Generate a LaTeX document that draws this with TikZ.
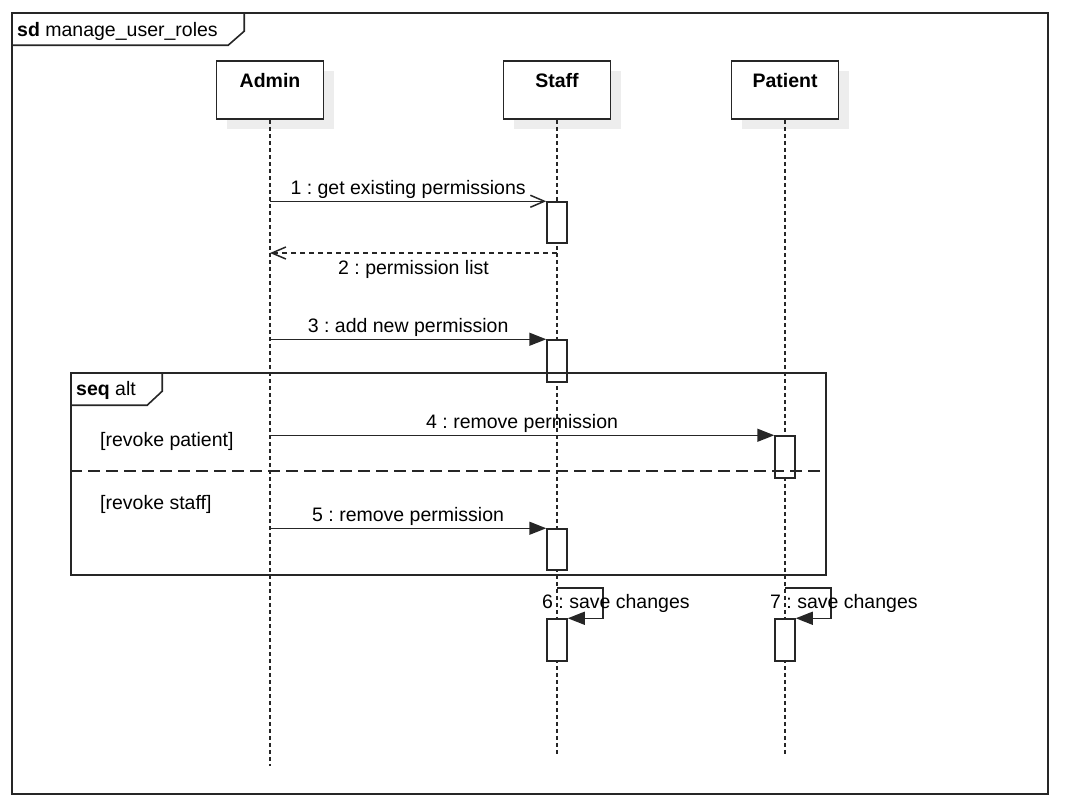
\documentclass[tikz,border=0pt]{standalone}
\usepackage{fontspec}
\setmainfont{Liberation Sans}
\usetikzlibrary{arrows.meta}
\frenchspacing

\newcommand\lbl{\fontsize{19.5}{23}\selectfont}

\tikzset{
  ink/.style={draw=black!85, line width=1.5pt},
  head/.style={ink, fill=white, minimum width=107pt, minimum height=58pt, inner sep=0pt},
  headshadow/.style={fill=black!7, minimum width=107pt, minimum height=58pt, inner sep=0pt},
  headlabel/.style={font=\lbl\bfseries, inner sep=2pt},
  act/.style={ink, fill=white, minimum width=20pt, minimum height=42pt, inner sep=0pt},
  life/.style={draw=black!85, line width=1.3pt, dash pattern=on 4pt off 3pt},
  call/.style={ink, -{Triangle[length=17pt, width=13pt]}},
  ask/.style={ink, -{Straight Barb[length=14pt, width=12pt]}},
  reply/.style={ask, dash pattern=on 5pt off 4pt},
  msglabel/.style={font=\lbl, inner sep=2pt},
  frame/.style={draw=black!85, line width=1.6pt, inner sep=0pt},
  sep/.style={draw=black!85, line width=1.5pt, dash pattern=on 12pt off 6pt},
}

\begin{document}
\begin{tikzpicture}[x=1pt, y=-1pt]

\useasboundingbox (0,0) rectangle (1068,807);

% Diagram frame
\node[frame, minimum width=1036pt, minimum height=781pt] (sd) at (530,403.5) {};
\draw[frame] (sd.north west) ++(0,33) -- ++(217,0) -- ++(16,-14) -- ++(0,-19);
\node[msglabel, anchor=west] (sdname) at (15,31) {\textbf{sd} manage\_user\_roles};

% Lifeline heads with shadow
\node[headshadow] at (280,100) {};
\node[headshadow] at (567,100) {};
\node[headshadow] at (795,100) {};
\node[head] (admin) at (270,90) {};
\node[head] (staff) at (557,90) {};
\node[head] (patient) at (785,90) {};
\node[headlabel, below=11pt] at (admin.north) {Admin};
\node[headlabel, below=11pt] at (staff.north) {Staff};
\node[headlabel, below=11pt] at (patient.north) {Patient};

% Lifelines
\draw[life] (admin.south) -- ++(0,646);
\draw[life] (staff.south) -- ++(0,636);
\draw[life] (patient.south) -- ++(0,636);

% Activations
\node[act, minimum height=41pt] (act1) at (557,222.5) {};
\node[act] (act3) at (557,361) {};
\node[act] (act4) at (785,457) {};
\node[act, minimum height=41pt] (act5) at (557,549.5) {};
\node[act] (act6) at (557,640) {};
\node[act] (act7) at (785,640) {};

% Combined fragment
\node[frame, minimum width=755pt, minimum height=202pt] (alt) at (448.5,474) {};
\draw[frame] (alt.north west) ++(0,33) -- ++(77,0) -- ++(15,-14) -- ++(0,-19);
\node[msglabel, anchor=west] (altname) at (74,390) {\textbf{seq} alt};
\draw[sep] (alt.west |- 0,471) -- (alt.east |- 0,471);
\node[msglabel, anchor=west] (guard1) at (98,441) {[revoke patient]};
\node[msglabel, anchor=west] (guard2) at (98,504) {[revoke staff]};

% Messages
\draw[ask] (admin.south |- act1.north) -- node[msglabel, above] {1 : get existing permissions} (act1.north west);
\coordinate (ret2) at (staff.south |- 0,253);
\draw[reply] (ret2) -- node[msglabel, below=5pt] {2 : permission list} (admin.south |- ret2);
\draw[call] (admin.south |- act3.north) -- node[msglabel, above] {3 : add new permission} (act3.north west);
\draw[call] (admin.south |- act4.north) -- node[msglabel, above] {4 : remove permission} (act4.north west);
\draw[call] (admin.south |- act5.north) -- node[msglabel, above] {5 : remove permission} (act5.north west);

% Self messages
\coordinate (loop6) at (staff.south |- 0,588);
\draw[call] (loop6) -- ++(46,0) |- (act6.north east);
\node[msglabel, anchor=west] (save6) at (540,603) {6 : save changes};
\coordinate (loop7) at (patient.south |- 0,588);
\draw[call] (loop7) -- ++(46,0) |- (act7.north east);
\node[msglabel, anchor=west] (save7) at (768,603) {7 : save changes};

\end{tikzpicture}
\end{document}
